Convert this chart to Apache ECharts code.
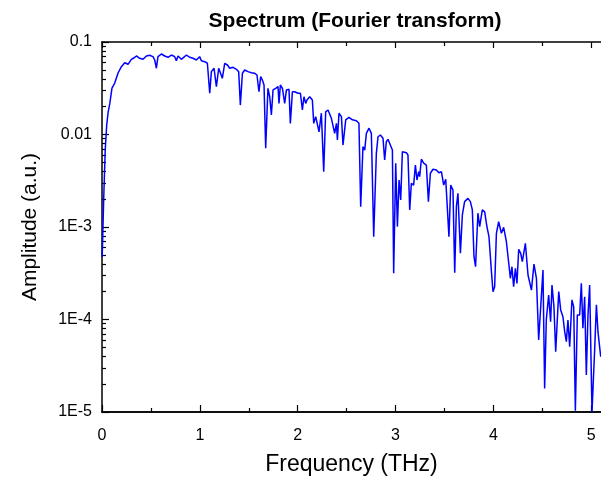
<!DOCTYPE html>
<html>
<head>
<meta charset="utf-8">
<script src="https://cdn.jsdelivr.net/npm/echarts@6/dist/echarts.min.js"></script>
<style>html,body{margin:0;padding:0;background:#fff;}#chart{width:601px;height:481px;}</style>
</head>
<body>
<div id="chart"></div>
<script>
// ---- data ----
const freq = [0.002,0.017,0.033,0.048,0.063,0.079,0.102,0.130,0.164,0.198,0.232,0.266,0.300,0.324,0.352,0.385,0.419,0.454,0.487,0.521,0.539,0.556,0.572,0.607,0.641,0.675,0.709,0.743,0.760,0.777,0.811,0.863,0.896,0.930,0.965,0.981,0.998,1.016,1.050,1.077,1.101,1.118,1.145,1.169,1.193,1.213,1.230,1.254,1.282,1.305,1.339,1.374,1.397,1.414,1.435,1.458,1.492,1.527,1.561,1.584,1.604,1.622,1.639,1.656,1.673,1.696,1.714,1.731,1.748,1.775,1.799,1.809,1.823,1.844,1.867,1.885,1.911,1.925,1.946,1.969,2.003,2.028,2.048,2.064,2.082,2.095,2.123,2.150,2.164,2.184,2.197,2.218,2.242,2.266,2.286,2.310,2.344,2.361,2.378,2.396,2.406,2.422,2.447,2.463,2.491,2.524,2.559,2.600,2.626,2.644,2.667,2.685,2.702,2.729,2.753,2.777,2.804,2.821,2.845,2.872,2.889,2.906,2.923,2.947,2.968,2.981,3.002,3.019,3.036,3.053,3.070,3.111,3.127,3.145,3.162,3.185,3.203,3.219,3.237,3.247,3.264,3.288,3.315,3.336,3.356,3.383,3.417,3.444,3.469,3.492,3.513,3.530,3.546,3.564,3.587,3.605,3.622,3.638,3.663,3.683,3.706,3.740,3.765,3.785,3.802,3.818,3.842,3.860,3.887,3.911,3.934,3.955,3.979,3.996,4.013,4.031,4.054,4.082,4.105,4.133,4.149,4.174,4.190,4.207,4.225,4.241,4.259,4.279,4.296,4.327,4.354,4.371,4.389,4.415,4.440,4.463,4.481,4.507,4.524,4.541,4.565,4.585,4.599,4.619,4.637,4.668,4.688,4.711,4.729,4.746,4.762,4.780,4.803,4.821,4.838,4.858,4.882,4.899,4.915,4.933,4.950,4.967,4.984,5.008,5.035,5.053,5.069,5.087,5.097];
const amplitude = [4.74e-4,1.96e-3,6.79e-3,0.01268,0.0175,0.0214,0.0318,0.0360,0.0462,0.0541,0.0597,0.0574,0.0650,0.0671,0.0706,0.0667,0.0650,0.0706,0.0718,0.0694,0.0639,0.0520,0.0694,0.0742,0.0706,0.0684,0.0723,0.0694,0.0628,0.0706,0.0650,0.0723,0.0684,0.0667,0.0639,0.0612,0.0694,0.0628,0.0612,0.0589,0.0279,0.0478,0.0520,0.0329,0.0520,0.0541,0.0405,0.0589,0.0564,0.0520,0.0533,0.0507,0.0478,0.0208,0.0459,0.0498,0.0478,0.0466,0.0459,0.0440,0.0290,0.0422,0.0388,0.0343,0.0071,0.0316,0.0256,0.0163,0.0303,0.0316,0.0329,0.0217,0.0343,0.0316,0.0217,0.0303,0.0308,0.0132,0.0290,0.0290,0.0279,0.0279,0.0184,0.0256,0.0217,0.0236,0.0256,0.0236,0.0132,0.0156,0.0163,0.0107,0.0170,0.00396,0.0176,0.0184,0.0150,0.0156,0.0103,0.0132,0.00872,0.0170,0.0156,0.00769,0.0144,0.0153,0.0144,0.0141,0.0132,0.00166,0.00738,0.00679,0.0103,0.0117,0.0103,7.85e-4,0.00626,0.00946,0.00988,0.00910,0.00530,0.00836,0.00887,0.00769,0.00679,3.16e-4,0.00489,1.01e-3,0.00322,0.00196,0.00652,0.00636,0.00600,0.00153,0.00297,0.00284,0.00468,0.00322,0.00396,0.00350,0.00540,0.00489,0.00468,0.00188,0.00381,0.00421,0.00413,0.00386,0.00396,0.00284,0.00328,0.00322,7.85e-4,0.00284,0.00251,3.21e-4,0.00166,0.00231,5.20e-4,0.00135,0.00188,0.00204,0.00188,0.00153,4.78e-4,3.72e-4,0.00141,0.00101,0.00153,0.00146,0.00101,7.85e-4,3.43e-4,2.00e-4,2.26e-4,8.55e-4,0.00114,8.55e-4,9.93e-4,6.93e-4,7.23e-4,2.79e-4,3.72e-4,2.26e-4,3.57e-4,2.46e-4,5.74e-4,5.20e-4,4.22e-4,6.67e-4,3.03e-4,3.16e-4,2.08e-4,3.98e-4,2.79e-4,6.00e-5,6.27e-5,3.43e-4,1.80e-5,9.89e-5,1.84e-4,9.46e-5,2.36e-4,1.37e-4,4.49e-5,2.00e-4,1.27e-4,1.07e-4,7.38e-5,5.75e-5,9.89e-5,5.08e-5,1.63e-4,1.37e-4,1.03e-5,1.12e-4,1.12e-4,2.46e-4,8.04e-5,1.76e-4,2.51e-5,1.12e-4,2.36e-4,1.0e-5,4.68e-5,1.44e-4,7.38e-5,7.10e-5,3.96e-5];
const xTickValues = [0, 1, 2, 3, 4, 5];
const xTickLabels = ['0', '1', '2', '3', '4', '5'];
const xMinorTickValues = [0.5, 1.5, 2.5, 3.5, 4.5];
const yTickValues = [1e-5, 1e-4, 1e-3, 0.01, 0.1];
const yTickLabels = ['1E-5', '1E-4', '1E-3', '0.01', '0.1'];
const yMinorTickValues = [2e-5,3e-5,4e-5,5e-5,6e-5,7e-5,8e-5,9e-5,2e-4,3e-4,4e-4,5e-4,6e-4,7e-4,8e-4,9e-4,2e-3,3e-3,4e-3,5e-3,6e-3,7e-3,8e-3,9e-3,0.02,0.03,0.04,0.05,0.06,0.07,0.08,0.09];

const FONT = "'Liberation Sans', Arial, sans-serif";
const XMIN = 0, XMAX = 5.1, YMIN = 1e-5, YMAX = 0.1;

const chart = echarts.init(document.getElementById('chart'), null, {renderer: 'canvas'});
const blackLine = {show: true, lineStyle: {color: '#000', width: 1.5}};
const noLine = {show: false};

function xAx(pos, ticks, len, withLabels, name) {
  return {
    type: 'value', position: pos, min: XMIN, max: XMAX,
    axisLine: withLabels !== null ? blackLine : noLine,
    axisTick: {show: true, inside: true, length: len, customValues: ticks, lineStyle: {color: '#000', width: 1.2}},
    axisLabel: withLabels ? {show: true, customValues: xTickValues, color: '#000', fontSize: 16, fontFamily: FONT, margin: 16,
      formatter: v => { const i = xTickValues.indexOf(v); return i >= 0 ? xTickLabels[i] : ''; }} : {show: false},
    splitLine: {show: false},
    name: name || '', nameLocation: 'middle', nameGap: 41,
    nameTextStyle: {color: '#000', fontSize: 23, fontFamily: FONT}
  };
}

const option = {
  backgroundColor: '#fff',
  animation: false,
  title: {
    text: 'Spectrum (Fourier transform)', left: 350, top: 6, textAlign: 'center',
    textStyle: {fontSize: 21, fontWeight: 'bold', color: '#000', fontFamily: FONT}
  },
  grid: {left: 102, top: 42, right: 0, bottom: 69, containLabel: false},
  xAxis: [
    xAx('bottom', xTickValues, 7, true, 'Frequency (THz)'),
    xAx('bottom', xMinorTickValues, 4, false),
    xAx('top', xTickValues, 6, null),
    xAx('top', xMinorTickValues, 4, false)
  ],
  yAxis: [
    {
      type: 'log', logBase: 10, position: 'left', min: YMIN, max: YMAX,
      axisLine: blackLine,
      axisTick: {show: true, inside: true, length: 7, customValues: yTickValues, lineStyle: {color: '#000', width: 1.2}},
      axisLabel: {show: true, customValues: yTickValues, color: '#000', fontSize: 16, fontFamily: FONT, margin: 10,
        formatter: v => { let best = 0; for (let i = 1; i < yTickValues.length; i++) if (Math.abs(Math.log10(v) - Math.log10(yTickValues[i])) < Math.abs(Math.log10(v) - Math.log10(yTickValues[best]))) best = i; return yTickLabels[best]; }},
      splitLine: {show: false},
      name: 'Amplitude (a.u.)', nameLocation: 'middle', nameGap: 61,
      nameTextStyle: {color: '#000', fontSize: 21, fontFamily: FONT}
    },
    {
      type: 'log', logBase: 10, position: 'left', min: YMIN, max: YMAX,
      axisLine: noLine,
      axisTick: {show: true, inside: true, length: 4, customValues: yMinorTickValues, lineStyle: {color: '#000', width: 1.2}},
      axisLabel: {show: false}, splitLine: {show: false}
    }
  ],
  series: [{
    type: 'line',
    data: freq.map((f, i) => [f, amplitude[i]]),
    xAxisIndex: 0, yAxisIndex: 0,
    showSymbol: false, symbol: 'none',
    lineStyle: {color: '#0000ff', width: 1.5},
    clip: true
  }]
};
chart.setOption(option);
</script>
</body>
</html>
